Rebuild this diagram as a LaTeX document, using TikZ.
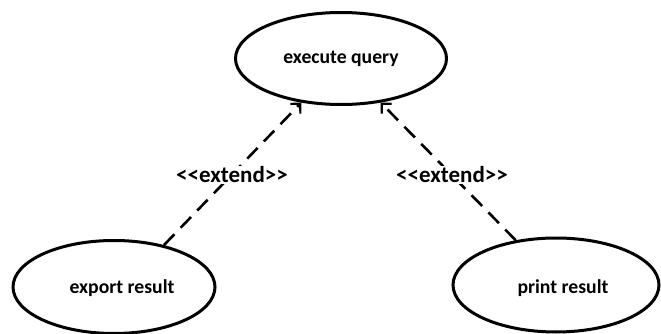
\documentclass[tikz,border=0pt]{standalone}
\usepackage{fontspec}
\setmainfont{Carlito}
\usetikzlibrary{shapes.geometric,arrows.meta}

\tikzset{
  usecase/.style={draw=black, line width=3pt, ellipse, inner sep=0pt, fill=white},
  casetext/.style={font=\fontsize{19.7}{22}\selectfont\bfseries},
  extendline/.style={draw=black, line width=2.6pt, dash pattern=on 15pt off 9pt,
    -{Straight Barb[length=7pt,width=14pt,line width=2.2pt]}},
  stereotype/.style={font=\fontsize{23}{26}\selectfont\bfseries, inner sep=0.5pt, fill=white}
}

\begin{document}
\begin{tikzpicture}[x=1pt, y=-1pt]
  \useasboundingbox (0,0) rectangle (661,334);

  % use cases
  \node[usecase, minimum width=211pt, minimum height=92pt,
        label={[casetext]center:execute query}] (query) at (341,58.5) {};
  \node[usecase, minimum width=202pt, minimum height=93pt,
        label={[casetext, xshift=8pt, yshift=-1.5pt]center:export result}] (export) at (114,287) {};
  \node[usecase, minimum width=206pt, minimum height=94pt,
        label={[casetext, xshift=7pt, yshift=-3pt]center:print result}] (print) at (556,285) {};

  % extend relations
  \draw[extendline] (export.40) -- (query.228);
  \draw[extendline] (print.132) -- (query.312);

  % stereotype labels
  \node[stereotype] (extL) at (232,175) {<{}<extend>{}>};
  \node[stereotype] (extR) at (452,175) {<{}<extend>{}>};
\end{tikzpicture}
\end{document}
